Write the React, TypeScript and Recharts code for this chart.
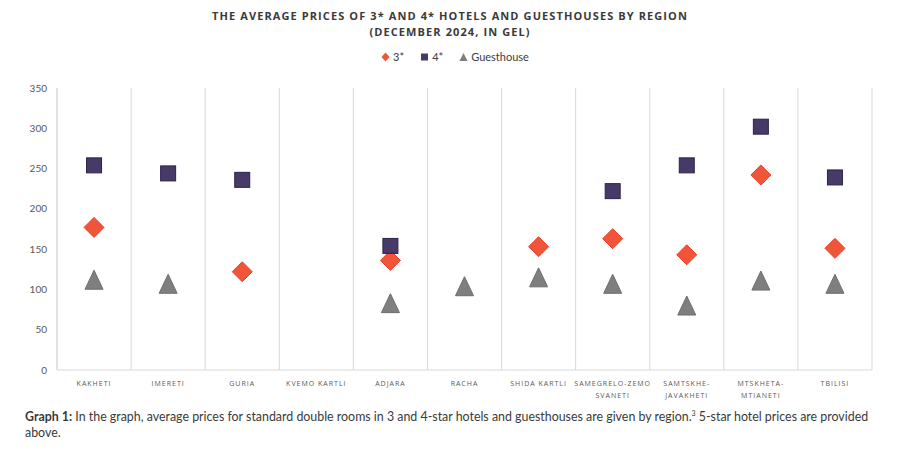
import { CartesianGrid, ComposedChart, Legend, Scatter, XAxis, YAxis } from "recharts";

const regions = [
  "KAKHETI",
  "IMERETI",
  "GURIA",
  "KVEMO KARTLI",
  "ADJARA",
  "RACHA",
  "SHIDA KARTLI",
  "SAMEGRELO-ZEMO SVANETI",
  "SAMTSKHE-JAVAKHETI",
  "MTSKHETA-MTIANETI",
  "TBILISI"
];

// labels as printed under the axis (some wrap onto two lines)
const regionLabels: string[][] = [
  ["KAKHETI"],
  ["IMERETI"],
  ["GURIA"],
  ["KVEMO KARTLI"],
  ["ADJARA"],
  ["RACHA"],
  ["SHIDA KARTLI"],
  ["SAMEGRELO-ZEMO", "SVANETI"],
  ["SAMTSKHE-", "JAVAKHETI"],
  ["MTSKHETA-", "MTIANETI"],
  ["TBILISI"]
];

const threeStar: (number | null)[] = [177, null, 122, null, 136, null, 153, 163, 143, 242, 151];
const fourStar: (number | null)[] = [254, 244, 236, null, 154, null, null, 222, 254, 302, 239];
const guesthouse: (number | null)[] = [112, 107, null, null, 83, 104, 115, 107, 80, 111, 107];

const yTicks = [0, 50, 100, 150, 200, 250, 300, 350];

// category slot i sits at i + 0.5 on a 0..11 axis
const xTicks = regions.map((_, i) => i + 0.5);

const data = regions.map((r, i) => ({
  region: r,
  x: i + 0.5,
  three: threeStar[i],
  four: fourStar[i],
  guest: guesthouse[i]
}));

const RED = "#F0553A";
const PURPLE = "#483A68";
const GREY = "#7F7F7F";

const Diamond = (props: any) => {
  const { cx, cy, payload } = props;
  if (payload?.three == null || cx == null || cy == null) return null;
  const r = 10;
  return (
    <path
      d={`M${cx},${cy - r} L${cx + r},${cy} L${cx},${cy + r} L${cx - r},${cy} Z`}
      fill={RED}
      stroke="#E8402A"
      strokeWidth={1}
    />
  );
};

const Square = (props: any) => {
  const { cx, cy, payload } = props;
  if (payload?.four == null || cx == null || cy == null) return null;
  const s = 15;
  return (
    <rect x={cx - s / 2} y={cy - s / 2} width={s} height={s} fill={PURPLE} stroke="#2C2248" strokeWidth={1} />
  );
};

const Triangle = (props: any) => {
  const { cx, cy, payload } = props;
  if (payload?.guest == null || cx == null || cy == null) return null;
  const h = 19;
  const w = 18;
  return (
    <path
      d={`M${cx},${cy - h / 2} L${cx + w / 2},${cy + h / 2} L${cx - w / 2},${cy + h / 2} Z`}
      fill={GREY}
      stroke="#6E6E6E"
      strokeWidth={1}
    />
  );
};

const RegionTick = (props: any) => {
  const { x, y, index } = props;
  const lines = regionLabels[index] ?? [];
  return (
    <g transform={`translate(${x},${y})`}>
      {lines.map((l, k) => (
        <text
          key={k}
          x={0}
          y={k * 12}
          dy={8}
          textAnchor="middle"
          fill="#595959"
          fontSize={7}
          letterSpacing={1}
          fontFamily="'Open Sans', sans-serif"
        >
          {l}
        </text>
      ))}
    </g>
  );
};

const legendItems = [
  { label: "3*", kind: "diamond" },
  { label: "4*", kind: "square" },
  { label: "Guesthouse", kind: "triangle" }
];

const LegendContent = () => (
  <div style={{ display: "flex", justifyContent: "center", gap: 16, paddingLeft: 10, fontSize: 11, color: "#404040", fontFamily: "Lato, sans-serif" }}>
    {legendItems.map((it) => (
      <div key={it.label} style={{ display: "flex", alignItems: "center", gap: 3 }}>
        <svg width={9} height={10}>
          {it.kind === "diamond" && <path d="M4.5,0.5 L8.5,5 L4.5,9.5 L0.5,5 Z" fill={RED} />}
          {it.kind === "square" && <rect x={1} y={1.5} width={7} height={7} fill={PURPLE} />}
          {it.kind === "triangle" && <path d="M4.5,1 L8.5,9 L0.5,9 Z" fill={GREY} />}
        </svg>
        <span>{it.label}</span>
      </div>
    ))}
  </div>
);

const captionStyle = {
  whiteSpace: "nowrap" as const,
  fontSize: 12.4,
  lineHeight: "16px",
  color: "#3A3A3A",
  fontFamily: "Lato, sans-serif"
};

export default function App() {
  return (
    <div style={{ position: "absolute", left: 0, top: 0, width: 900, height: 450, background: "#fff", fontFamily: "Lato, sans-serif" }}>
      <div
        style={{
          position: "absolute",
          top: 8,
          left: 0,
          width: 900,
          textAlign: "center",
          fontSize: 11,
          fontWeight: 700,
          letterSpacing: 1.1,
          lineHeight: "16px",
          color: "#3A3A3A",
          fontFamily: "'Open Sans', sans-serif"
        }}
      >
        THE AVERAGE PRICES OF 3* AND 4* HOTELS AND GUESTHOUSES BY REGION
        <br />
        (DECEMBER 2024, IN GEL)
      </div>
      <div style={{ position: "absolute", top: 0, left: 0 }}>
        <ComposedChart width={900} height={400} data={data} margin={{ top: 75, right: 28, bottom: 0, left: 0 }}>
          <CartesianGrid
            horizontal={false}
            stroke="#D9D9D9"
            verticalCoordinatesGenerator={({ offset }: any) =>
              regions.map((_, i) => offset.left + (i * offset.width) / regions.length).concat(offset.left + offset.width)
            }
          />
          <XAxis
            dataKey="x"
            type="number"
            domain={[0, regions.length]}
            ticks={xTicks}
            axisLine={{ stroke: "#D9D9D9" }}
            tickLine={false}
            interval={0}
            height={30}
            tick={<RegionTick />}
          />
          <YAxis
            domain={[0, 350]}
            ticks={yTicks}
            width={57}
            axisLine={{ stroke: "#D9D9D9" }}
            tickLine={false}
            tickMargin={4}
            tick={{ fill: "#595959", fontSize: 10, fontFamily: "Lato, sans-serif" }}
          />
          <Legend
            verticalAlign="top"
            content={<LegendContent />}
            wrapperStyle={{ top: 50, left: 0, width: 900 }}
          />
          <Scatter name="3*" dataKey="three" shape={<Diamond />} isAnimationActive={false} />
          <Scatter name="4*" dataKey="four" shape={<Square />} isAnimationActive={false} />
          <Scatter name="Guesthouse" dataKey="guest" shape={<Triangle />} isAnimationActive={false} />
        </ComposedChart>
      </div>
      <div style={{ position: "absolute", top: 409, left: 25 }}>
        <div style={captionStyle}>
          <b>Graph 1:</b> In the graph, average prices for standard double rooms in 3 and 4-star hotels and guesthouses
          are given by region.<sup style={{ fontSize: 7, lineHeight: 0 }}>3</sup> 5-star hotel prices are provided
        </div>
        <div style={captionStyle}>above.</div>
      </div>
    </div>
  );
}
